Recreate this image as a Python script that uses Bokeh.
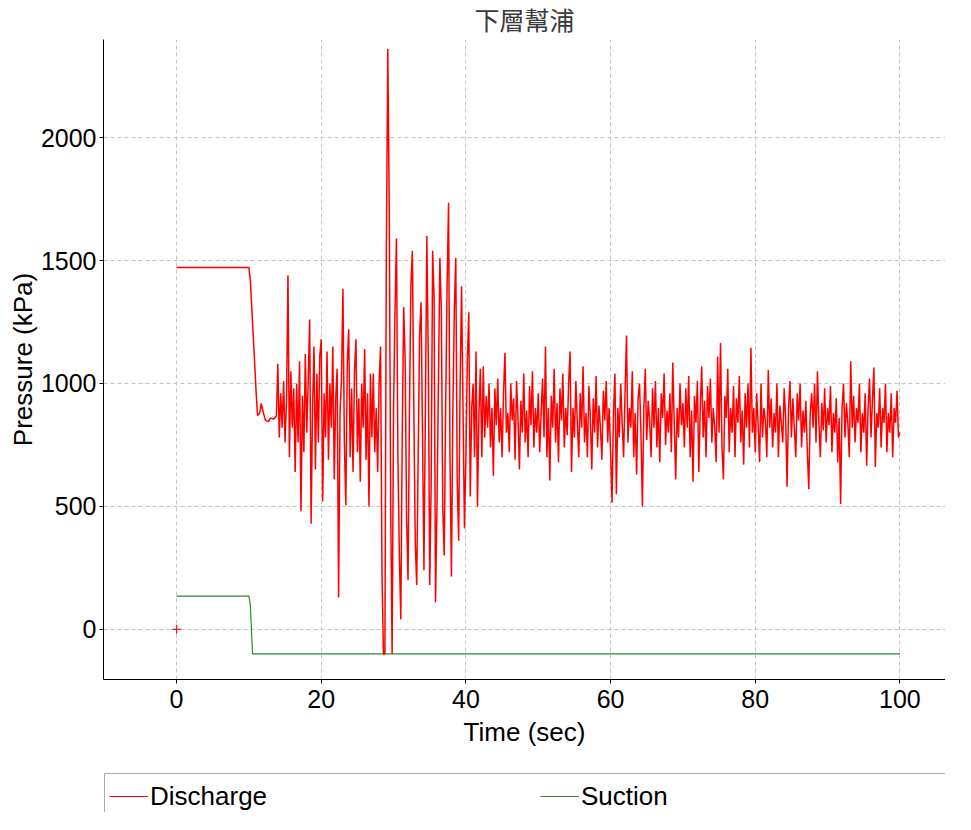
from bokeh.plotting import figure
from bokeh.models import Range1d, FixedTicker, Legend, LegendItem
from bokeh.layouts import column
from bokeh.embed import file_html
from bokeh.resources import INLINE

# ---------------- data ----------------
title_text = "下層幫浦"
x_label = "Time (sec)"
y_label = "Pressure (kPa)"
x_ticks = [0, 20, 40, 60, 80, 100]
y_ticks = [0, 500, 1000, 1500, 2000]

# Discharge: steady phase and pressure drop (time in s, pressure in kPa)
discharge_head_t = [0, 10.0, 10.2, 10.5, 10.8, 11.0, 11.2, 11.5, 11.7, 12.0, 12.3, 12.7, 13.0, 13.4, 13.8]
discharge_head_p = [1472, 1472, 1420, 1250, 1080, 963, 870, 880, 919, 880, 850, 845, 860, 855, 867]

# Discharge after 14 s, one reading every 0.2 s
tail_start = 14.0
tail_step = 0.2
discharge_14_20 = [1080, 780, 960, 820, 1010, 760, 930, 1440, 700, 1050, 820, 980, 640, 1000, 760,
                   1090, 480, 950, 720, 1120, 800, 1010, 1260, 430, 900, 1150, 650, 1040, 760, 1110]
discharge_20_30 = [1180, 520, 960, 780, 1130, 690, 1000, 820, 1150, 610, 940, 1060, 130, 880, 1020,
                   1385, 760, 505, 1080, 1220, 700, 980, 640, 1050, 1180, 720, 940, 600, 1000, 820,
                   1140, 690, 960, 500, 1040, 780, 1040, 720, 900, 640, 1000, 1150, 230, -100, -100,
                   1530, 2360, 1730, 500, -100]
discharge_30_40 = [900, 1300, 1590, 700, 300, 40, 800, 1310, 1100, 450, 200, 900, 1400, 1540, 900,
                   350, 180, 700, 1200, 1330, 800, 240, 900, 1600, 1100, 180, 600, 1540, 1350, 110,
                   500, 1000, 1510, 1300, 500, 300, 900, 1400, 1735, 700, 215, 900, 1300, 1510, 600,
                   360, 1000, 1395, 900, 410]
discharge_40_50 = [700, 1100, 1290, 540, 900, 1000, 700, 1130, 500, 880, 1060, 700, 1070, 780, 950,
                   820, 1000, 740, 900, 625, 980, 830, 1020, 760, 900, 700, 960, 1125, 800, 880,
                   720, 1000, 850, 940, 690, 1010, 860, 650, 930, 800, 1040, 760, 890, 700, 990,
                   830, 1050, 740, 900, 800]
discharge_50_60 = [960, 720, 880, 1020, 780, 1150, 700, 900, 605, 950, 820, 1060, 760, 920, 680,
                   980, 850, 1040, 740, 900, 790, 1000, 1130, 640, 900, 780, 1010, 840, 700, 960,
                   820, 1070, 760, 880, 700, 990, 860, 650, 940, 800, 1030, 740, 910, 820, 690,
                   970, 850, 1010, 760, 900]
discharge_60_70 = [720, 515, 880, 1040, 550, 900, 780, 1000, 840, 700, 960, 1195, 760, 900, 820,
                   1050, 700, 880, 630, 940, 1000, 800, 500, 900, 1060, 770, 930, 850, 700, 980,
                   820, 1010, 740, 900, 680, 960, 860, 1040, 750, 890, 800, 960, 720, 1085, 840,
                   610, 900, 780, 1000, 830]
discharge_70_80 = [920, 740, 980, 820, 1030, 700, 890, 600, 950, 840, 1010, 640, 900, 1070, 780,
                   930, 700, 990, 860, 1020, 760, 900, 820, 680, 1110, 800, 1165, 740, 610, 950,
                   860, 1060, 720, 900, 800, 990, 700, 940, 840, 1030, 760, 890, 670, 960, 820,
                   1000, 740, 1145, 800, 900]
discharge_80_90 = [720, 960, 830, 680, 1000, 780, 900, 850, 700, 1055, 820, 940, 740, 880, 800,
                   1000, 700, 910, 840, 760, 980, 860, 580, 900, 1010, 780, 940, 820, 700, 960,
                   850, 1000, 740, 890, 800, 930, 720, 570, 880, 960, 820, 1000, 760, 1050, 840,
                   700, 920, 810, 980, 760]
discharge_90_100 = [900, 830, 990, 720, 880, 800, 940, 680, 860, 510, 900, 1000, 780, 920, 840,
                    700, 1090, 820, 950, 760, 900, 840, 1000, 720, 880, 800, 960, 665, 900, 1020,
                    780, 930, 1065, 660, 880, 820, 980, 740, 900, 840, 1000, 720, 880, 800, 960,
                    700, 900, 840, 970, 780, 800]

suction_t = [0, 10.0, 10.2, 10.5, 100]
suction_p = [135, 135, 100, -100, -100]

marker_t = [0]
marker_p = [0]

# ---------------- assemble series ----------------
tail_p = (discharge_14_20 + discharge_20_30 + discharge_30_40 + discharge_40_50 + discharge_50_60
          + discharge_60_70 + discharge_70_80 + discharge_80_90 + discharge_90_100)
tail_t = [round(tail_start + tail_step * i, 2) for i in range(len(tail_p))]
discharge_t = discharge_head_t + tail_t
discharge_p = discharge_head_p + tail_p

FONT = "Liberation Sans"
RED = "#ff0000"
GREEN = "#2a8a2a"

# ---------------- main chart ----------------
p = figure(width=945, height=760, output_backend="svg", toolbar_location=None,
           x_range=Range1d(-10.1, 106.3), y_range=Range1d(-204, 2399),
           min_border_left=103, min_border_right=0, min_border_top=32, min_border_bottom=81)
p.outline_line_color = None
p.background_fill_color = "white"

p.title.text = title_text
p.title.align = "center"
p.title.vertical_align = "top"
p.title.offset = 12
p.title.text_font = "Noto Sans CJK TC"
p.title.text_font_size = "25px"
p.title.text_font_style = "normal"
p.title.text_color = "#3a3a3a"
p.title.text_line_height = 1.0
p.title.standoff = 1

for ax in (p.xaxis[0], p.yaxis[0]):
    ax.axis_line_color = "black"
    ax.major_tick_line_color = "black"
    ax.major_tick_in = 0
    ax.major_tick_out = 4
    ax.minor_tick_line_color = None
    ax.major_label_text_font = FONT
    ax.major_label_text_font_size = "25px"
    ax.major_label_text_color = "black"
    ax.axis_label_text_font = FONT
    ax.axis_label_text_font_size = "26px"
    ax.axis_label_text_font_style = "normal"
    ax.axis_label_text_color = "black"

p.xaxis.ticker = FixedTicker(ticks=x_ticks)
p.yaxis.ticker = FixedTicker(ticks=y_ticks)
p.xaxis.axis_label = x_label
p.yaxis.axis_label = y_label
p.xaxis.major_label_standoff = 6
p.xaxis.axis_label_standoff = 6
p.yaxis.major_label_standoff = 3
p.yaxis.axis_label_standoff = 0

for g in (p.xgrid[0], p.ygrid[0]):
    g.grid_line_color = "#c4c4c4"
    g.grid_line_dash = "4 3"
    g.grid_line_width = 1

p.line(suction_t, suction_p, line_color=GREEN, line_width=1.2)
p.line(discharge_t, discharge_p, line_color=RED, line_width=1.5)
p.scatter(marker_t, marker_p, marker="cross", size=9, line_color="#e02020", line_width=1.3)

# ---------------- legend strip ----------------
pl = figure(width=945, height=52, output_backend="svg", toolbar_location=None,
            x_range=Range1d(-10.1, 106.3), y_range=Range1d(5000, 6000),
            x_axis_type=None, y_axis_type=None,
            min_border_left=102, min_border_right=0, min_border_top=12, min_border_bottom=0)
pl.outline_line_color = None
pl.xgrid.visible = False
pl.ygrid.visible = False
# proxies (same series, outside the strip's visible range) that carry the legend styles
l_dis = pl.line(discharge_t, discharge_p, line_color=RED, line_width=1)
l_suc = pl.line(suction_t, suction_p, line_color=GREEN, line_width=1)

leg = Legend(items=[LegendItem(label="Discharge", renderers=[l_dis]),
                    LegendItem(label="Suction", renderers=[l_suc])],
             location="top_left", orientation="horizontal",
             glyph_width=39, glyph_height=36, label_height=36, label_width=362,
             label_standoff=2, spacing=28, padding=4, margin=1,
             border_line_color="#555555", border_line_width=1,
             background_fill_color="white", background_fill_alpha=1,
             label_text_font=FONT, label_text_font_size="26px", label_text_color="black")
pl.add_layout(leg, "center")

open("out.html", "w").write(file_html(column(p, pl, spacing=0), INLINE))
